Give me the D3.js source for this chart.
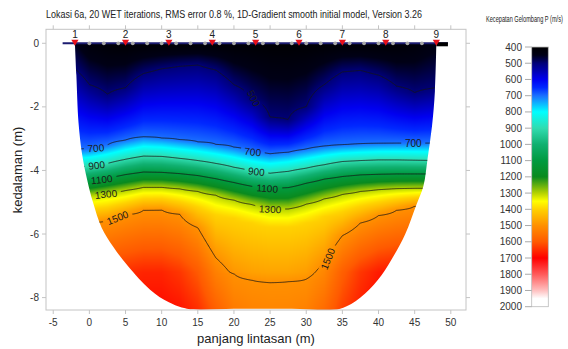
<!DOCTYPE html>
<html>
<head>
<meta charset="utf-8">
<script src="https://cdn.jsdelivr.net/npm/d3@7"></script>
<style>
  body { margin: 0; background: #fff; }
  text { font-family: Arial, "Liberation Sans", sans-serif; }
</style>
</head>
<body>
<svg id="chart" width="568" height="349"></svg>
<script>
// positions along the line (m) where the velocity profile was read
const colX      = [-2, 0, 2.5, 5, 7.5, 10, 12.5, 15, 17.5, 20, 22.5, 25, 27.5, 30, 32.5, 35, 37.5, 40, 42.5, 45, 48];
// depth (m) of each velocity contour at those positions
const depth500  = [-0.8, -1.3, -1.6, -1.4, -0.95, -0.8, -0.72, -0.68, -0.84, -1.3, -1.75, -2.33, -2.41, -2.0, -1.3, -0.9, -0.85, -1.0, -1.35, -1.55, -1.4];
const depth700  = [-3.35, -3.32, -3.2, -3.05, -2.94, -2.98, -3.04, -3.1, -3.18, -3.27, -3.4, -3.48, -3.43, -3.33, -3.24, -3.2, -3.17, -3.15, -3.14, -3.14, -3.14];
const depth900  = [-3.9, -3.86, -3.78, -3.65, -3.55, -3.56, -3.62, -3.69, -3.78, -3.9, -4.02, -4.09, -4.03, -3.93, -3.82, -3.72, -3.69, -3.67, -3.67, -3.68, -3.69];
const depth1100 = [-4.38, -4.33, -4.24, -4.13, -4.05, -4.06, -4.1, -4.16, -4.26, -4.38, -4.5, -4.56, -4.54, -4.4, -4.27, -4.19, -4.14, -4.12, -4.11, -4.11, -4.11];
const depth1300 = [-4.85, -4.8, -4.72, -4.63, -4.53, -4.53, -4.58, -4.66, -4.78, -4.93, -5.07, -5.2, -5.21, -5.06, -4.89, -4.75, -4.66, -4.6, -4.57, -4.56, -4.56];
const depth1400 = [-5.28, -5.22, -5.15, -5.02, -4.89, -4.88, -4.98, -5.15, -5.4, -5.5, -5.65, -5.78, -5.78, -5.65, -5.45, -5.3, -5.12, -5.0, -4.9, -4.84, -4.8];
const depth1500 = [-5.7, -5.65, -5.58, -5.4, -5.25, -5.24, -5.38, -5.8, -6.75, -7.25, -7.45, -7.52, -7.5, -7.42, -6.9, -6.05, -5.65, -5.42, -5.25, -5.12, -5.05];
// velocity (m/s) at the surface, at 7.2 m and at 8.4 m depth
const vTop      = [450, 420, 410, 405, 405, 405, 405, 405, 405, 405, 405, 405, 405, 405, 405, 405, 405, 405, 410, 420, 440];
const vDeep     = [1620, 1630, 1640, 1650, 1660, 1660, 1640, 1600, 1530, 1490, 1475, 1470, 1470, 1480, 1520, 1590, 1640, 1670, 1680, 1680, 1680];
const vBottom   = [1650, 1660, 1670, 1680, 1690, 1690, 1680, 1650, 1590, 1540, 1525, 1520, 1520, 1530, 1570, 1630, 1670, 1700, 1710, 1710, 1710];

// outline of the covered section [x, depth]
const rightEdge = [[48, 0], [47.8, -1.5], [47.4, -2.6], [46.8, -3.6], [46.2, -4.5], [45.2, -5.1], [43.7, -6.0], [41.8, -6.8], [39.9, -7.45], [37.5, -8.0], [34.7, -8.35]];
const bottomEdge = [[28, -8.35], [20, -8.35]];
const leftEdge  = [[-2, 0], [-1.8, -1], [-1.5, -2.5], [-1.0, -3.5], [-0.3, -4.3], [0.5, -5.0], [1.7, -5.8], [3.3, -6.4], [5.3, -7.0], [8.4, -7.75], [11, -8.15], [13.5, -8.35]];

const shotX     = [-2, 5, 11, 17, 23, 29, 35, 41, 48];
const shotNames = ["1", "2", "3", "4", "5", "6", "7", "8", "9"];
const geophoneX = [0, 2, 4, 6, 8, 10, 12, 14, 16, 18, 20, 22, 24, 26, 28, 30, 32, 34, 36, 38, 40, 42, 44, 46];

const xTicks = [-5, 0, 5, 10, 15, 20, 25, 30, 35, 40, 45, 50];
const yTicks = [0, -2, -4, -6, -8];
const cbTicks = [400, 500, 600, 700, 800, 900, 1000, 1100, 1200, 1300, 1400, 1500, 1600, 1700, 1800, 1900, 2000];
const cbValues = [400, 450, 500, 600, 650, 700, 800, 900, 1000, 1100, 1200, 1300, 1350, 1400, 1500, 1600, 1700, 1800, 1900, 1950, 2000];
const cbColors = ["#000000", "#000016", "#000078", "#0000f0", "#0028ff", "#1a70ff", "#00ffff", "#30dcb0", "#10b070", "#009a40", "#0a8a1e",
                  "#b4d200", "#ffff00", "#ffd200", "#ff9000", "#ff5a00", "#ff0000", "#ff5a5a", "#ffc0c0", "#ffffff", "#ffffff"];

const contourLevels = [500, 700, 900, 1100, 1300, 1500];
const contourLabels = [
  { x: 0.9,  d: -3.3,  t: "700",  a: -4 },
  { x: 22.6, d: -3.42, t: "700",  a: 6 },
  { x: 44.8, d: -3.14, t: "700",  a: 0 },
  { x: 1.0,  d: -3.84, t: "900",  a: -6 },
  { x: 23.1, d: -4.04, t: "900",  a: 6 },
  { x: 1.7,  d: -4.29, t: "1100", a: -6 },
  { x: 24.6, d: -4.57, t: "1100", a: 4 },
  { x: 2.3,  d: -4.75, t: "1300", a: -6 },
  { x: 25.0, d: -5.22, t: "1300", a: 3 },
  { x: 3.9,  d: -5.49, t: "1500", a: -22 },
  { x: 33.0, d: -6.78, t: "1500", a: -68 },
  { x: 22.7, d: -1.73, t: "500",  a: 62 }
];

const svg = d3.select("#chart");
const x = d3.scaleLinear().domain([-6, 52.1]).range([46, 466]);
const y = d3.scaleLinear().domain([0.44, -8.39]).range([29.3, 310]);
const color = d3.scaleLinear().domain(cbValues).range(cbColors).interpolate(d3.interpolateRgb).clamp(true);

// velocity field from the column profiles
const columns = colX.map((cx, k) => [
  [0, vTop[k]], [depth500[k], 500], [depth700[k], 700], [depth900[k], 900], [depth1100[k], 1100],
  [depth1300[k], 1300], [depth1400[k], 1400], [depth1500[k], 1500], [-7.2, vDeep[k]], [-8.4, vBottom[k]]
].sort((a, b) => b[0] - a[0]));

function atDepth(knots, d) {
  if (d >= knots[0][0]) return knots[0][1];
  for (let i = 1; i < knots.length; i++) {
    if (d >= knots[i][0]) {
      const [d0, v0] = knots[i - 1], [d1, v1] = knots[i];
      return v0 + (v1 - v0) * (d - d0) / (d1 - d0);
    }
  }
  return knots[knots.length - 1][1];
}

function velocity(px, d) {
  const last = colX.length - 1;
  if (px <= colX[0]) return atDepth(columns[0], d);
  if (px >= colX[last]) return atDepth(columns[last], d);
  const k = d3.bisectRight(colX, px) - 1;
  const t = (px - colX[k]) / (colX[k + 1] - colX[k]);
  return atDepth(columns[k], d) * (1 - t) + atDepth(columns[k + 1], d) * t;
}

// clip shape of the section
const defs = svg.append("defs");
const outline = rightEdge.concat(bottomEdge, leftEdge.slice().reverse());
const edgeLine = d3.line().x(p => x(p[0])).y(p => y(p[1])).curve(d3.curveCatmullRom);
defs.append("clipPath").attr("id", "bowl")
  .append("path").attr("d", edgeLine(outline) + "Z");

// colour image
const ix = 46, iy = 29, iw = 420, ih = 281;
const canvas = document.createElement("canvas");
canvas.width = iw; canvas.height = ih;
const ctx = canvas.getContext("2d");
const img = ctx.createImageData(iw, ih);
for (let j = 0; j < ih; j++) {
  const d = y.invert(iy + j + 0.5);
  for (let i = 0; i < iw; i++) {
    const c = d3.rgb(color(velocity(x.invert(ix + i + 0.5), d)));
    const k = (j * iw + i) * 4;
    img.data[k] = c.r; img.data[k + 1] = c.g; img.data[k + 2] = c.b; img.data[k + 3] = 255;
  }
}
ctx.putImageData(img, 0, 0);
svg.append("image")
  .attr("href", canvas.toDataURL())
  .attr("x", ix).attr("y", iy).attr("width", iw).attr("height", ih)
  .attr("preserveAspectRatio", "none")
  .attr("clip-path", "url(#bowl)");

// contour lines
const gx0 = -3.5, gdx = 0.1, gd0 = 0.3, gdd = 0.04;
const nx = 541, ny = 226;
const grid = new Array(nx * ny);
for (let j = 0; j < ny; j++)
  for (let i = 0; i < nx; i++)
    grid[j * nx + i] = velocity(gx0 + i * gdx, gd0 - j * gdd);
const contours = d3.contours().size([nx, ny]).thresholds(contourLevels)(grid);
const proj = d3.geoTransform({
  point: function(cx, cy) {
    this.stream.point(x(gx0 + (cx - 0.5) * gdx), y(gd0 - (cy - 0.5) * gdd));
  }
});
const geo = d3.geoPath(proj);

// gaps in the lines under the labels
const mask = defs.append("mask").attr("id", "gaps").attr("maskUnits", "userSpaceOnUse")
  .attr("x", 0).attr("y", 0).attr("width", 568).attr("height", 349);
mask.append("rect").attr("width", 568).attr("height", 349).attr("fill", "#fff");
mask.selectAll("rect.gap").data(contourLabels).join("rect")
  .attr("class", "gap")
  .attr("x", d => -d.t.length * 3 - 3).attr("y", -5)
  .attr("width", d => d.t.length * 6 + 6).attr("height", 10)
  .attr("fill", "#000")
  .attr("transform", d => `translate(${x(d.x)},${y(d.d)}) rotate(${d.a})`);

svg.append("g").attr("clip-path", "url(#bowl)")
  .append("g").attr("mask", "url(#gaps)")
  .selectAll("path").data(contours).join("path")
  .attr("d", geo)
  .attr("fill", "none")
  .attr("stroke", "#151515")
  .attr("stroke-width", 0.8);

svg.append("g").selectAll("text").data(contourLabels).join("text")
  .attr("transform", d => `translate(${x(d.x)},${y(d.d)}) rotate(${d.a})`)
  .attr("text-anchor", "middle").attr("dy", "0.35em")
  .attr("font-size", 10).attr("fill", "#1a1a1a")
  .text(d => d.t);

// frame and ticks
const frameColor = "#c4c4c4";
svg.append("rect").attr("x", 46).attr("y", 29.3).attr("width", 420).attr("height", 280.7)
  .attr("fill", "none").attr("stroke", frameColor);
const tk = svg.append("g").attr("stroke", frameColor);
tk.selectAll("line.xb").data(xTicks).join("line").attr("class", "xb")
  .attr("x1", d => x(d)).attr("x2", d => x(d)).attr("y1", 310).attr("y2", 314);
tk.selectAll("line.xt").data(xTicks).join("line").attr("class", "xt")
  .attr("x1", d => x(d)).attr("x2", d => x(d)).attr("y1", 29.3).attr("y2", 25.3);
tk.selectAll("line.yl").data(yTicks).join("line").attr("class", "yl")
  .attr("x1", 42).attr("x2", 46).attr("y1", d => y(d)).attr("y2", d => y(d));
tk.selectAll("line.yr").data(yTicks).join("line").attr("class", "yr")
  .attr("x1", 466).attr("x2", 470).attr("y1", d => y(d)).attr("y2", d => y(d));

svg.append("g").selectAll("text").data(xTicks).join("text")
  .attr("x", d => x(d)).attr("y", 325.5)
  .attr("text-anchor", "middle").attr("font-size", 10).attr("fill", "#333")
  .text(d => d);
svg.append("g").selectAll("text").data(yTicks).join("text")
  .attr("x", 39).attr("y", d => y(d)).attr("dy", "0.35em")
  .attr("text-anchor", "end").attr("font-size", 10).attr("fill", "#333")
  .text(d => d);

// surface line, shots and geophones
svg.append("line")
  .attr("x1", x(-3.7)).attr("x2", x(49.6)).attr("y1", y(0)).attr("y2", y(0))
  .attr("stroke", "#1c1c70").attr("stroke-width", 2);
svg.append("rect")
  .attr("x", x(48)).attr("y", y(0) - 1).attr("width", x(49.6) - x(48)).attr("height", 4)
  .attr("fill", "#000");
svg.append("g").selectAll("circle").data(geophoneX).join("circle")
  .attr("cx", d => x(d)).attr("cy", y(0)).attr("r", 1.9)
  .attr("fill", "#a8a8a8");
svg.append("g").selectAll("path").data(shotX).join("path")
  .attr("d", d => `M${x(d) - 3.6},${y(0) - 3.5}L${x(d) + 3.6},${y(0) - 3.5}L${x(d)},${y(0) + 2.5}Z`)
  .attr("fill", "#e8101a");
svg.append("g").selectAll("text").data(shotX).join("text")
  .attr("x", d => x(d)).attr("y", y(0) - 5.5)
  .attr("text-anchor", "middle").attr("font-size", 10).attr("fill", "#222")
  .text((d, i) => shotNames[i]);

// titles
svg.append("text").attr("x", 46).attr("y", 18)
  .attr("font-size", 10).attr("fill", "#222")
  .attr("textLength", 376).attr("lengthAdjust", "spacingAndGlyphs")
  .text("Lokasi 6a, 20 WET iterations, RMS error 0.8 %, 1D-Gradient smooth initial model, Version 3.26");
svg.append("text").attr("x", 256).attr("y", 343)
  .attr("text-anchor", "middle").attr("font-size", 13).attr("fill", "#222")
  .text("panjang lintasan (m)");
svg.append("text").attr("transform", "translate(22,170) rotate(-90)")
  .attr("text-anchor", "middle").attr("font-size", 13).attr("fill", "#222")
  .text("kedalaman (m)");

// colour bar
const cb = d3.scaleLinear().domain([400, 2000]).range([47, 306.7]);
const grad = defs.append("linearGradient").attr("id", "cbgrad")
  .attr("x1", 0).attr("y1", 0).attr("x2", 0).attr("y2", 1);
grad.selectAll("stop").data(cbValues).join("stop")
  .attr("offset", d => (d - 400) / 1600)
  .attr("stop-color", (d, i) => cbColors[i]);
svg.append("rect").attr("x", 531.7).attr("y", cb(400)).attr("width", 16.6).attr("height", cb(2000) - cb(400))
  .attr("fill", "url(#cbgrad)").attr("stroke", "#bbb").attr("stroke-width", 0.8);
svg.append("g").attr("stroke", "#aaa").selectAll("line").data(cbTicks).join("line")
  .attr("x1", 525).attr("x2", 531.7).attr("y1", d => cb(d)).attr("y2", d => cb(d));
svg.append("g").selectAll("text").data(cbTicks).join("text")
  .attr("x", 522).attr("y", d => cb(d)).attr("dy", "0.35em")
  .attr("text-anchor", "end").attr("font-size", 10).attr("fill", "#333")
  .text(d => d);
// narrow legend title: squeeze horizontally to fit the 78 px it has
const cbTitle = svg.append("text")
  .attr("font-size", 8.5).attr("fill", "#222")
  .text("Kecepatan Gelombang P (m/s)");
const natural = cbTitle.node().getComputedTextLength();
cbTitle.attr("transform", `translate(486,22) scale(${77 / natural},1)`);
</script>
</body>
</html>
